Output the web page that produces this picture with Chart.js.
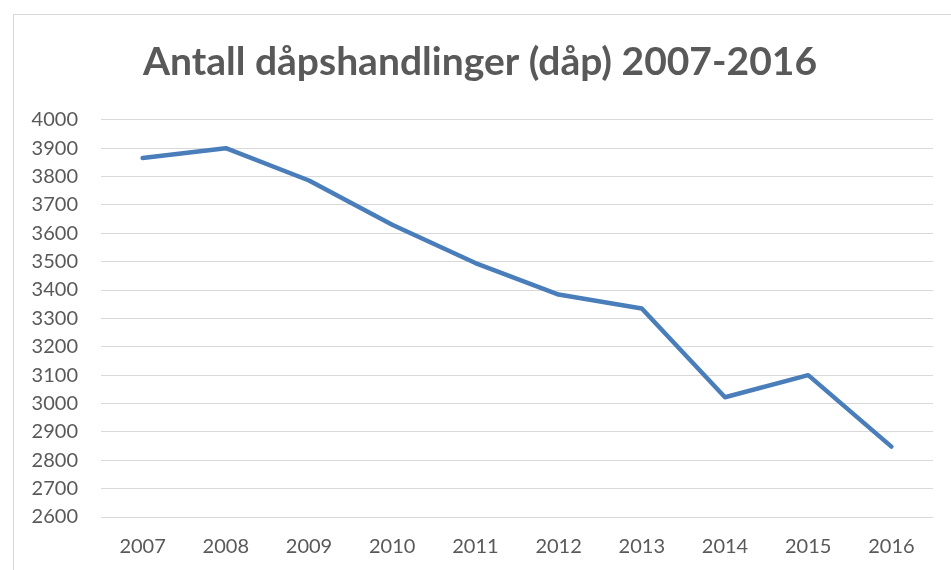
<!DOCTYPE html>
<html>
<head>
<meta charset="utf-8">
<script src="https://cdn.jsdelivr.net/npm/chart.js@4/dist/chart.umd.min.js"></script>
<style>
  html, body { margin: 0; padding: 0; background: #fff; overflow: hidden; }
  #frame { position: absolute; left: 13px; top: 14px; width: 1000px; height: 600px;
           border-left: 1px solid #d9d9d9; border-top: 1px solid #d9d9d9; }
  #wrap { position: absolute; left: 0; top: 0; width: 951px; height: 570px; }
</style>
</head>
<body>
<div id="frame"></div>
<div id="wrap"><canvas id="c" width="951" height="570"></canvas></div>
<script>
const titleText = "Antall dåpshandlinger (dåp) 2007-2016";
const years = ["2007", "2008", "2009", "2010", "2011", "2012", "2013", "2014", "2015", "2016"];
const baptisms = [3865, 3900, 3786, 3630, 3495, 3384, 3335, 3022, 3100, 2848];
const yMin = 2600;
const yMax = 4000;
const yStep = 100;

new Chart(document.getElementById("c"), {
  type: "line",
  data: {
    labels: years,
    datasets: [{
      label: "Dåp",
      data: baptisms,
      borderColor: "#4a7ebb",
      backgroundColor: "#4a7ebb",
      borderWidth: 4.5,
      pointRadius: 0,
      pointHoverRadius: 0,
      tension: 0,
      borderCapStyle: "round",
      borderJoinStyle: "round",
      fill: false
    }]
  },
  options: {
    responsive: false,
    animation: false,
    layout: { padding: { left: 27, right: 18, top: 0, bottom: 11 } },
    plugins: {
      legend: { display: false },
      tooltip: { enabled: false },
      title: {
        display: true,
        text: titleText,
        color: "#595959",
        font: { family: "Lato", size: 39, weight: "bold" },
        padding: { top: 39, bottom: 34 }
      }
    },
    scales: {
      x: {
        offset: true,
        grid: { display: false, drawTicks: false },
        border: { display: false },
        ticks: {
          color: "#595959",
          font: { family: "Lato", size: 20 },
          padding: 18,
          maxRotation: 0
        },
        afterFit: function (scale) { scale.height = 42; }
      },
      y: {
        min: yMin,
        max: yMax,
        grid: { color: "#d9d9d9", lineWidth: 1, drawTicks: false },
        border: { display: false },
        ticks: {
          stepSize: yStep,
          color: "#595959",
          font: { family: "Lato", size: 20 },
          padding: 23,
          callback: function (v) { return String(v); }
        },
        afterFit: function (scale) { scale.width = 74; }
      }
    }
  }
});
</script>
</body>
</html>
